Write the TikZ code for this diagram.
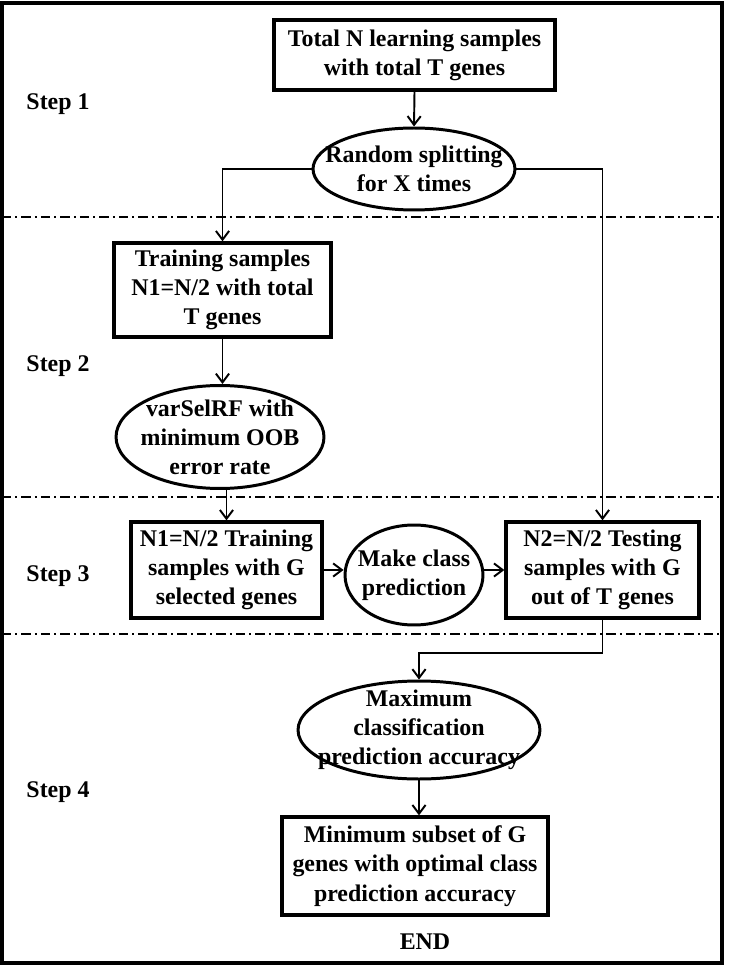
\documentclass[tikz,border=0pt]{standalone}
\usepackage{fontspec}
\setmainfont{Liberation Serif}
\usetikzlibrary{arrows.meta,shapes.geometric}

\begin{document}
\begin{tikzpicture}[x=0.02cm,y=-0.02cm,->,>={Straight Barb[length=5pt,width=7.5pt]},line width=1.1pt,
    every node/.style={font=\fontsize{13.6}{16.6}\selectfont\bfseries},
    procbox/.style={rectangle,draw,line width=1.9pt},
    procell/.style={ellipse,draw,line width=1.7pt},
    txt/.style={align=center},
    dashdot/.style={-,line width=1.1pt,dash pattern=on 0.19cm off 0.08cm on 0.04cm off 0.08cm}]

    \useasboundingbox (0,0) rectangle (730,972);
    \draw[-,line width=2pt] (2,3) rectangle (722,963);

    % step 1
    \node[procbox,
          minimum width = 5.62cm,
          minimum height = 1.40cm
          ] (total) at (414.5,55) {};
    \node[txt] at (total.center) {Total N learning samples\\with total T genes};

    \node[procell,
          minimum width = 4.04cm,
          minimum height = 1.64cm
          ] (split) at (414,169) {};
    \node[txt] at (split.center) {Random splitting\\for X times};

    \node[] (step1) at (58,104) {Step 1};

    \draw[dashdot] (2,217) -- (722,217);

    % step 2
    \node[procbox,
          minimum width = 4.34cm,
          minimum height = 1.88cm
          ] (train) at (222.5,290) {};
    \node[txt] at (train.center) {Training samples\\N1=N/2 with total\\T genes};

    \node[procell,
          minimum width = 4.16cm,
          minimum height = 2.06cm
          ] (varsel) at (220,437) {};
    \node[txt] at (varsel.center) {varSelRF with\\minimum OOB\\error rate};

    \node[] (step2) at (58,366) {Step 2};

    \draw[dashdot] (2,497) -- (722,497);

    % step 3
    \node[procbox,
          minimum width = 3.82cm,
          minimum height = 1.92cm
          ] (n1) at (226.5,570) {};
    \node[txt] at (n1.center) {N1=N/2 Training\\samples with G\\selected genes};

    \node[procell,
          minimum width = 2.76cm,
          minimum height = 2.0cm
          ] (predict) at (414,575) {};
    \node[txt] at (predict.center) {Make class\\prediction};

    \node[procbox,
          minimum width = 3.86cm,
          minimum height = 1.92cm
          ] (n2) at (602.5,570) {};
    \node[txt] at (n2.center) {N2=N/2 Testing\\samples with G\\out of T genes};

    \node[] (step3) at (58,576) {Step 3};

    \draw[dashdot] (2,634) -- (722,634);

    % step 4
    \node[procell,
          minimum width = 4.84cm,
          minimum height = 1.96cm
          ] (maxacc) at (419,730) {};
    \node[txt] at (maxacc.center) {Maximum\\classification\\prediction accuracy};

    \node[procbox,
          minimum width = 5.32cm,
          minimum height = 1.96cm
          ] (final) at (415,866) {};
    \node[txt] at (final.center) {Minimum subset of G\\genes with optimal class\\prediction accuracy};

    \node[] (step4) at (58,792) {Step 4};
    \node[] (end) at (425,942) {END};

    \draw (total.south) -- (split.north);
    \draw (split.west) -| (train.north);
    \draw (split.east) -| (n2.north);
    \draw (train.south) -- (train.south |- varsel.north);
    \draw (varsel.south -| n1.north) -- (n1.north);
    \draw (n1.east) -- (n1.east -| predict.west);
    \draw (predict.east |- n2.west) -- (n2.west);
    \draw (n2.south) -- ++(0,33) -| (maxacc.north);
    \draw (maxacc.south) -- (maxacc.south |- final.north);

\end{tikzpicture}
\end{document}
